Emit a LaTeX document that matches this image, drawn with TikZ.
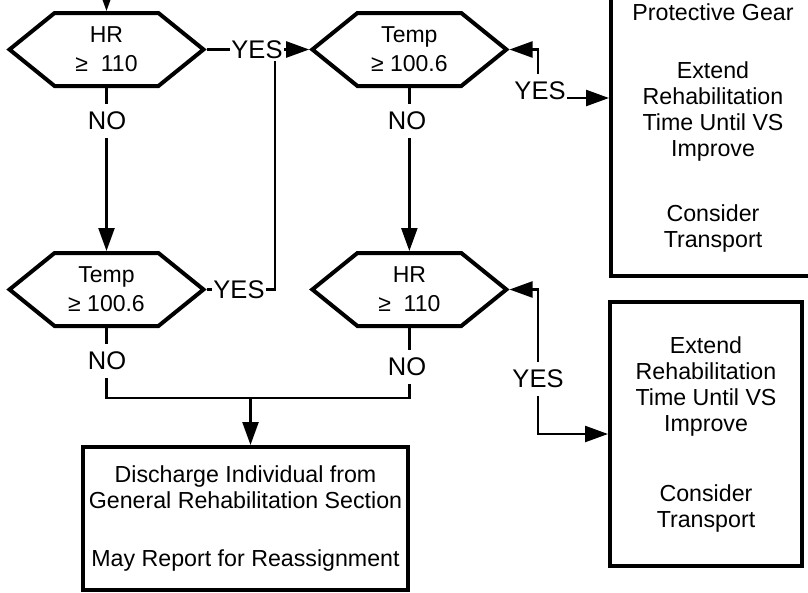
\documentclass[tikz,border=0pt]{standalone}
\usepackage{fontspec}
\setmainfont{Liberation Sans}
\usetikzlibrary{arrows.meta,positioning,shapes.symbols}

\newcommand{\boxfont}{\fontsize{23.2}{26}\selectfont}
\newcommand{\hexfont}{\fontsize{23}{29}\selectfont}
\newcommand{\lblfont}{\fontsize{25.5}{28}\selectfont}

\begin{document}
\begin{tikzpicture}[
    x=1pt, y=-1pt,
    node distance=163pt and 102.5pt,
    decision/.style={shape=signal, signal to=west and east, signal pointer angle=78,
      draw, line width=4pt, inner sep=0pt, minimum width=194pt, minimum height=73pt,
      align=center, font=\hexfont},
    action/.style={rectangle, draw, line width=4pt, inner sep=0pt, align=center,
      font=\boxfont},
    lbl/.style={fill=white, inner xsep=1pt, inner ysep=8pt, font=\lblfont},
    line/.style={line width=2.4pt},
    a/.style={line, -{Triangle[length=23pt,width=16pt]}},
    aa/.style={line, {Triangle[length=23pt,width=16pt]}-{Triangle[length=23pt,width=16pt]}}]
  \useasboundingbox (0,0) rectangle (808,592);
  \clip (0,0) rectangle (808,592);

  % checks
  \node[decision] (hr1) at (106.5,49.5) {HR\\≥~~110};
  \node[decision, right=of hr1] (temp1) {Temp\\≥ 100.6};
  \node[decision, below=of hr1] (temp2) {Temp\\≥ 100.6};
  \node[decision, below=of temp1] (hr2) {HR\\≥~~110};

  % actions
  \node[action, minimum width=204pt, minimum height=296pt] (gear) at (713,127.8)
    {Protective Gear\\[32pt]Extend\\Rehabilitation\\Time Until VS\\Improve\\[39pt]Consider\\Transport};
  \node[action, minimum width=192pt, minimum height=264pt] (ext) at (706,434)
    {Extend\\Rehabilitation\\Time Until VS\\Improve\\[44pt]Consider\\Transport};
  \node[action, minimum width=325pt, minimum height=143pt] (out) at (245.5,518.5)
    {Discharge Individual from\\General Rehabilitation Section\\[32pt]May Report for Reassignment};

  \coordinate (feed) at (106.5,-40);
  \coordinate (join) at (275,49.5);
  \coordinate (merge) at (250.5,398);
  \coordinate (k1) at (538,98);
  \coordinate (k2) at (538,434);

  % connectors
  \draw[a] (feed) -- (hr1.north);
  \draw[a] (hr1.east) -- (temp1.west);
  \draw[line] (temp2.east) -| (join);
  \draw[a] (hr1.south) -- (temp2.north);
  \draw[a] (temp1.south) -- (hr2.north);
  \draw[line] (temp2.south) |- (merge) -| (hr2.south);
  \draw[a] (merge) -- (out.north -| merge);
  \draw[aa] (temp1.east) -| (k1) -- (k1 -| gear.west);
  \draw[aa] (hr2.east) -| (k2) -- (ext.west);

  % yes/no labels
  \node[lbl, inner ysep=2pt] (yes1) at (257,50) {YES};
  \node[lbl] (yes2) at (239,290) {YES};
  \node[lbl] (yes3) at (540,91) {YES};
  \node[lbl] (yes4) at (538,379) {YES};
  \node[lbl] (no1) at (107,121) {NO};
  \node[lbl] (no2) at (407,121) {NO};
  \node[lbl] (no3) at (107,361) {NO};
  \node[lbl] (no4) at (407,367) {NO};
\end{tikzpicture}
\end{document}
